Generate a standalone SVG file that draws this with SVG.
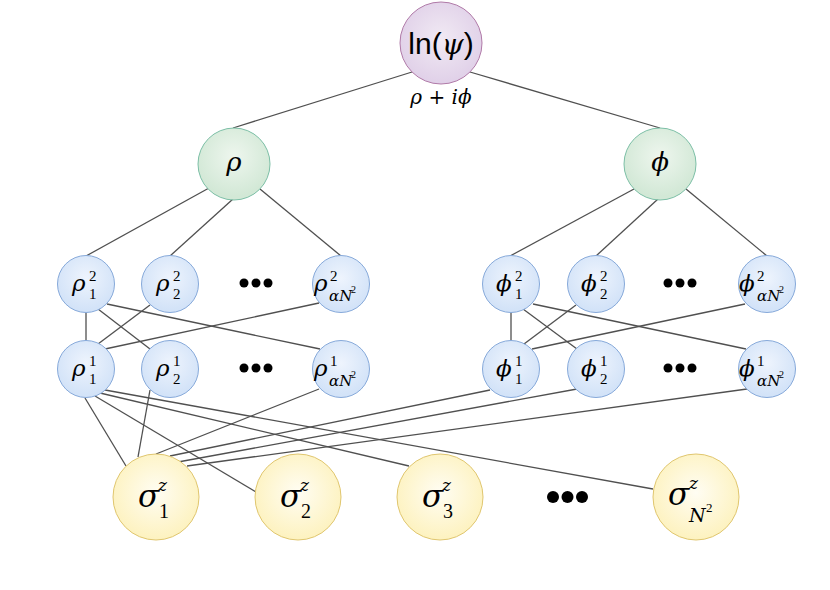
<svg xmlns="http://www.w3.org/2000/svg" width="830" height="590" viewBox="0 0 830 590">
<defs>
<radialGradient id="gp" cx="50%" cy="45%" r="55%"><stop offset="0" stop-color="#f1eaf4"/><stop offset="1" stop-color="#e0d0e8"/></radialGradient>
<radialGradient id="gg" cx="50%" cy="40%" r="55%"><stop offset="0" stop-color="#eef6ee"/><stop offset="1" stop-color="#d2e8d6"/></radialGradient>
<radialGradient id="gb" cx="50%" cy="40%" r="55%"><stop offset="0" stop-color="#eef4fd"/><stop offset="1" stop-color="#d3e3f8"/></radialGradient>
<radialGradient id="gy" cx="50%" cy="45%" r="55%"><stop offset="0" stop-color="#fffdf3"/><stop offset="1" stop-color="#fdf2bf"/></radialGradient>
</defs>
<style>
.p{fill:url(#gp);stroke:#b07aa8;stroke-width:1}
.g{fill:url(#gg);stroke:#7cbfa6;stroke-width:1}
.b{fill:url(#gb);stroke:#86a9da;stroke-width:1}
.y{fill:url(#gy);stroke:#e0c66e;stroke-width:1}
.c line{stroke:#505050;stroke-width:1.3}
text{fill:#000}
.m{font-family:"DejaVu Serif","Liberation Serif",serif;font-style:italic}
.n{font-family:"Liberation Serif","DejaVu Serif",serif}
.L{font-size:23px}
.S{font-size:15px}
.T{font-size:15px}
.X{font-size:10px}
.dot{fill:#000}
</style>
<g id="connectors" class="c">
<line x1="412" y1="72" x2="233" y2="128"/>
<line x1="470" y1="72" x2="660" y2="128"/>
<line x1="209" y1="188" x2="86" y2="256"/>
<line x1="233" y1="199" x2="170" y2="256"/>
<line x1="260" y1="189" x2="341" y2="256"/>
<line x1="634" y1="189" x2="510" y2="256"/>
<line x1="658" y1="199" x2="596" y2="256"/>
<line x1="686" y1="189" x2="767" y2="256"/>
<line x1="86" y1="313" x2="86" y2="341"/>
<line x1="98" y1="309" x2="150" y2="349"/>
<line x1="107" y1="304" x2="320" y2="349"/>
<line x1="150" y1="305" x2="98" y2="344"/>
<line x1="319" y1="303" x2="105" y2="349"/>
<line x1="511" y1="313" x2="511" y2="341"/>
<line x1="523" y1="309" x2="577" y2="349"/>
<line x1="533" y1="304" x2="746" y2="349"/>
<line x1="576" y1="305" x2="524" y2="344"/>
<line x1="745" y1="304" x2="532" y2="349"/>
<line x1="85" y1="398" x2="126" y2="466"/>
<line x1="150" y1="390" x2="138" y2="457"/>
<line x1="95" y1="396" x2="256" y2="492"/>
<line x1="100" y1="393" x2="409" y2="466"/>
<line x1="105" y1="390" x2="653" y2="489"/>
<line x1="319" y1="389" x2="156" y2="454"/>
<line x1="490" y1="390" x2="170" y2="456"/>
<line x1="577" y1="389" x2="178" y2="462"/>
<line x1="747" y1="389" x2="187" y2="466"/>
</g>
<g id="ln-psi">
<circle class="p" cx="441" cy="43" r="41"/>
<text x="441" y="54" text-anchor="middle" font-family="Liberation Sans, Arial, sans-serif" font-size="30">ln(<tspan class="m" font-size="28">ψ</tspan>)</text>
</g>
<g id="label-rho-i-phi">
<text x="441" y="104" text-anchor="middle" font-size="20" class="m">ρ <tspan font-style="normal">+</tspan> iϕ</text>
</g>
<g id="rho">
<circle class="g" cx="234" cy="164" r="36"/>
<text x="234" y="171" text-anchor="middle" font-size="26" class="m">ρ</text>
</g>
<g id="phi">
<circle class="g" cx="660" cy="164" r="36"/>
<text x="660" y="171" text-anchor="middle" font-size="26" class="m">ϕ</text>
</g>
<g id="rho2-1">
<circle class="b" cx="86" cy="284" r="28.5"/>
<text x="72" y="291" class="m L">ρ</text><text x="89" y="281" class="n S">2</text><text x="89" y="299" class="n S">1</text>
</g>
<g id="rho2-2">
<circle class="b" cx="170" cy="284" r="28.5"/>
<text x="156" y="291" class="m L">ρ</text><text x="173" y="281" class="n S">2</text><text x="173" y="299" class="n S">2</text>
</g>
<g id="rho2-dots"><circle class="dot" cx="244" cy="283" r="4.5"/><circle class="dot" cx="256" cy="283" r="4.5"/><circle class="dot" cx="268" cy="283" r="4.5"/></g>
<g id="rho2-aN">
<circle class="b" cx="341" cy="284" r="28.5"/>
<text x="314" y="291" class="m L">ρ</text><text x="330" y="281" class="n S">2</text><text x="329" y="301" class="m T">αN</text><text x="351" y="293" class="n X">2</text>
</g>
<g id="rho1-1">
<circle class="b" cx="86" cy="369" r="28.5"/>
<text x="72" y="376" class="m L">ρ</text><text x="89" y="366" class="n S">1</text><text x="89" y="384" class="n S">1</text>
</g>
<g id="rho1-2">
<circle class="b" cx="170" cy="369" r="28.5"/>
<text x="156" y="376" class="m L">ρ</text><text x="173" y="366" class="n S">1</text><text x="173" y="384" class="n S">2</text>
</g>
<g id="rho1-dots"><circle class="dot" cx="244" cy="368" r="4.5"/><circle class="dot" cx="256" cy="368" r="4.5"/><circle class="dot" cx="268" cy="368" r="4.5"/></g>
<g id="rho1-aN">
<circle class="b" cx="341" cy="369" r="28.5"/>
<text x="314" y="376" class="m L">ρ</text><text x="330" y="366" class="n S">1</text><text x="329" y="386" class="m T">αN</text><text x="351" y="378" class="n X">2</text>
</g>
<g id="phi2-1">
<circle class="b" cx="511" cy="284" r="28.5"/>
<text x="496" y="291" class="m L">ϕ</text><text x="515" y="281" class="n S">2</text><text x="515" y="299" class="n S">1</text>
</g>
<g id="phi2-2">
<circle class="b" cx="596" cy="284" r="28.5"/>
<text x="581" y="291" class="m L">ϕ</text><text x="600" y="281" class="n S">2</text><text x="600" y="299" class="n S">2</text>
</g>
<g id="phi2-dots"><circle class="dot" cx="668" cy="283" r="4.5"/><circle class="dot" cx="680" cy="283" r="4.5"/><circle class="dot" cx="692" cy="283" r="4.5"/></g>
<g id="phi2-aN">
<circle class="b" cx="767" cy="284" r="28.5"/>
<text x="739" y="291" class="m L">ϕ</text><text x="757" y="281" class="n S">2</text><text x="757" y="301" class="m T">αN</text><text x="779" y="293" class="n X">2</text>
</g>
<g id="phi1-1">
<circle class="b" cx="511" cy="369" r="28.5"/>
<text x="496" y="376" class="m L">ϕ</text><text x="515" y="366" class="n S">1</text><text x="515" y="384" class="n S">1</text>
</g>
<g id="phi1-2">
<circle class="b" cx="596" cy="369" r="28.5"/>
<text x="581" y="376" class="m L">ϕ</text><text x="600" y="366" class="n S">1</text><text x="600" y="384" class="n S">2</text>
</g>
<g id="phi1-dots"><circle class="dot" cx="668" cy="368" r="4.5"/><circle class="dot" cx="680" cy="368" r="4.5"/><circle class="dot" cx="692" cy="368" r="4.5"/></g>
<g id="phi1-aN">
<circle class="b" cx="767" cy="369" r="28.5"/>
<text x="739" y="376" class="m L">ϕ</text><text x="757" y="366" class="n S">1</text><text x="757" y="386" class="m T">αN</text><text x="779" y="378" class="n X">2</text>
</g>
<g id="sigma-1">
<ellipse class="y" cx="156" cy="497" rx="43" ry="43"/>
<text x="138" y="507" class="m" font-size="31">σ</text><text x="158" y="491" class="m" font-size="17">z</text><text x="159" y="518" class="n" font-size="20">1</text>
</g>
<g id="sigma-2">
<ellipse class="y" cx="298" cy="497" rx="43" ry="43"/>
<text x="280" y="507" class="m" font-size="31">σ</text><text x="300" y="491" class="m" font-size="17">z</text><text x="301" y="518" class="n" font-size="20">2</text>
</g>
<g id="sigma-3">
<ellipse class="y" cx="440" cy="497" rx="43" ry="43"/>
<text x="422" y="507" class="m" font-size="31">σ</text><text x="442" y="491" class="m" font-size="17">z</text><text x="443" y="518" class="n" font-size="20">3</text>
</g>
<g id="sigma-dots"><circle class="dot" cx="553" cy="497" r="6"/><circle class="dot" cx="567.5" cy="497" r="6"/><circle class="dot" cx="582" cy="497" r="6"/></g>
<g id="sigma-N2">
<ellipse class="y" cx="696" cy="497" rx="43" ry="43"/>
<text x="668" y="505" class="m" font-size="31">σ</text><text x="689" y="489" class="m" font-size="17">z</text><text x="689" y="522" class="m" font-size="19">N</text><text x="706" y="512" class="n" font-size="13">2</text>
</g>
</svg>
